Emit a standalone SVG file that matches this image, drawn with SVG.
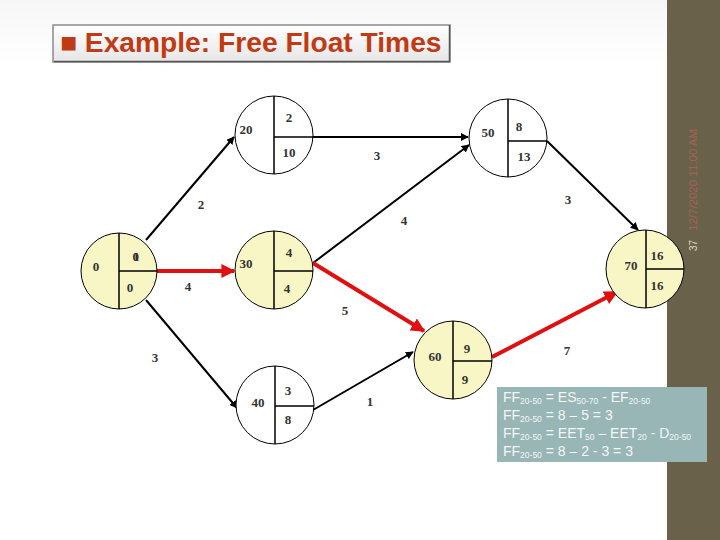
<svg xmlns="http://www.w3.org/2000/svg" width="720" height="540" viewBox="0 0 720 540">
<defs>
<linearGradient id="bg" x1="0" y1="0" x2="0" y2="1">
<stop offset="0" stop-color="#f6f6f6"/><stop offset="0.12" stop-color="#ffffff"/><stop offset="1" stop-color="#ffffff"/>
</linearGradient>
<linearGradient id="tb" x1="0" y1="0" x2="0" y2="1">
<stop offset="0" stop-color="#ffffff"/><stop offset="1" stop-color="#e6e6e6"/>
</linearGradient>
<marker id="ab" viewBox="0 0 10 10" refX="9" refY="5" markerWidth="8" markerHeight="8" markerUnits="userSpaceOnUse" orient="auto">
<path d="M0,0 L10,5 L0,10 Z" fill="#000"/>
</marker>
<marker id="ar" viewBox="0 0 10 10" refX="9" refY="5" markerWidth="14" markerHeight="14" markerUnits="userSpaceOnUse" orient="auto">
<path d="M0,0 L10,5 L0,10 Z" fill="#e01010"/>
</marker>
<style>
.n{font-family:"Liberation Serif","Times New Roman",serif;font-weight:bold;font-size:13px;fill:#333;text-anchor:middle}
.cw{fill:#ffffff;stroke:#000;stroke-width:1}
.cy{fill:#f8f6c4;stroke:#000;stroke-width:1}
.dv{stroke:#000;stroke-width:1.5;fill:none}
.eb{stroke:#000;stroke-width:2;fill:none;marker-end:url(#ab)}
.er{stroke:#e01010;stroke-width:4;fill:none;marker-end:url(#ar)}
.f{font-family:"Liberation Sans",Arial,sans-serif;font-size:14px;fill:#f4f7f7}
.s{font-size:8.5px}
</style>
</defs>
<rect x="0" y="0" width="720" height="540" fill="url(#bg)"/>
<rect x="667" y="0" width="53" height="540" fill="#6a614a"/>
<text transform="translate(697,231) rotate(-90)" font-family="Liberation Sans,Arial,sans-serif" font-size="11.5" fill="#a06458">12/7/2020 11:00 AM</text>
<text transform="translate(697,251) rotate(-90)" font-family="Liberation Sans,Arial,sans-serif" font-size="10" fill="#e0d8c0">37</text>

<g id="title">
<rect x="53" y="25" width="397" height="37" fill="url(#tb)" stroke="#8a8a8a" stroke-width="1.5"/>
<line x1="54" y1="61.5" x2="450" y2="61.5" stroke="#555" stroke-width="1.5"/>
<line x1="449.5" y1="25" x2="449.5" y2="62" stroke="#555" stroke-width="1.5"/>
<text x="60" y="52" font-family="Liberation Sans,Arial,sans-serif" font-weight="bold" font-size="28.2" fill="#c03a14">■ Example: Free Float Times</text>
</g>

<g id="connectors">
<line class="eb" x1="146" y1="240" x2="234" y2="137"/>
<line class="eb" x1="146" y1="300" x2="237" y2="408"/>
<line class="er" x1="157" y1="271" x2="234" y2="271"/>
<line class="eb" x1="313" y1="137" x2="468" y2="137"/>
<line class="eb" x1="313" y1="263" x2="469" y2="145"/>
<line class="er" x1="313" y1="263" x2="424" y2="331"/>
<line class="eb" x1="547" y1="141" x2="638" y2="230"/>
<line class="er" x1="492" y1="357" x2="617" y2="292"/>
<line class="eb" x1="313" y1="410" x2="413" y2="352"/>
<text class="n" x="201" y="209">2</text>
<text class="n" x="377" y="160">3</text>
<text class="n" x="568" y="204">3</text>
<text class="n" x="404" y="225">4</text>
<text class="n" x="188" y="291">4</text>
<text class="n" x="345" y="315">5</text>
<text class="n" x="155" y="362">3</text>
<text class="n" x="567" y="355">7</text>
<text class="n" x="370" y="406">1</text>
</g>

<g id="node10">
<circle class="cy" cx="119" cy="271" r="38"/>
<path class="dv" d="M119,233 V309 M119,271 H157"/>
<text class="n" x="96" y="271">0</text>
<text class="n" x="133" y="261" letter-spacing="-6">01</text>
<text class="n" x="130" y="292">0</text>
</g>

<g id="node20">
<circle class="cw" cx="274" cy="135" r="39"/>
<path class="dv" d="M274,96 V174 M274,137 H313"/>
<text class="n" x="246" y="134">20</text>
<text class="n" x="289" y="122">2</text>
<text class="n" x="289" y="157">10</text>
</g>

<g id="node30">
<circle class="cy" cx="274" cy="270" r="39"/>
<path class="dv" d="M274,231 V309 M274,271 H313"/>
<text class="n" x="246" y="268">30</text>
<text class="n" x="289" y="257">4</text>
<text class="n" x="287" y="293">4</text>
</g>

<g id="node50">
<circle class="cw" cx="508" cy="138" r="39"/>
<path class="dv" d="M508,99 V177 M508,141 H547"/>
<text class="n" x="488" y="137">50</text>
<text class="n" x="519" y="131">8</text>
<text class="n" x="524" y="161">13</text>
</g>

<g id="node40">
<circle class="cw" cx="275" cy="405" r="39"/>
<path class="dv" d="M275,366 V444 M275,406 H314"/>
<text class="n" x="258" y="407">40</text>
<text class="n" x="288" y="395">3</text>
<text class="n" x="288" y="424">8</text>
</g>

<g id="node60">
<circle class="cy" cx="453" cy="360" r="39"/>
<path class="dv" d="M453,321 V399 M453,361 H492"/>
<text class="n" x="435" y="361">60</text>
<text class="n" x="467" y="353">9</text>
<text class="n" x="465" y="384">9</text>
</g>

<g id="node70">
<circle class="cy" cx="645" cy="269" r="39"/>
<path class="dv" d="M646,230 V308 M646,269 H684"/>
<text class="n" x="631" y="270">70</text>
<text class="n" x="657" y="260">16</text>
<text class="n" x="657" y="290">16</text>
</g>

<g id="note">
<rect x="497" y="387" width="210" height="75" fill="#97b6b5"/>
<text class="f" x="503" y="402">FF<tspan class="s" dy="2">20-50</tspan><tspan dy="-2"> = ES</tspan><tspan class="s" dy="2">50-70</tspan><tspan dy="-2"> - EF</tspan><tspan class="s" dy="2">20-50</tspan></text>
<text class="f" x="503" y="420">FF<tspan class="s" dy="2">20-50</tspan><tspan dy="-2"> = 8 – 5 = 3</tspan></text>
<text class="f" x="503" y="438">FF<tspan class="s" dy="2">20-50</tspan><tspan dy="-2"> = EET</tspan><tspan class="s" dy="2">50</tspan><tspan dy="-2"> – EET</tspan><tspan class="s" dy="2">20</tspan><tspan dy="-2"> - D</tspan><tspan class="s" dy="2">20-50</tspan></text>
<text class="f" x="503" y="456">FF<tspan class="s" dy="2">20-50</tspan><tspan dy="-2"> = 8 – 2 - 3 = 3</tspan></text>
</g>
</svg>
